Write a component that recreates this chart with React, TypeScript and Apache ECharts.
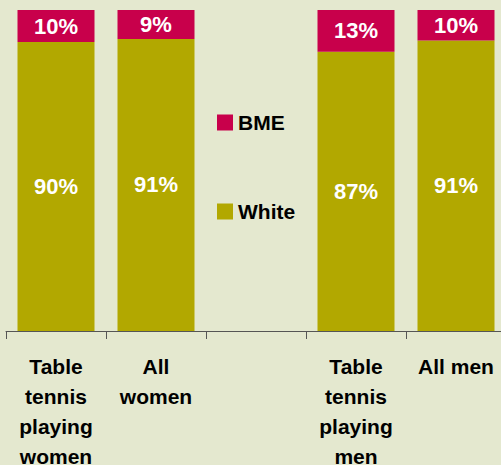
import React, { useEffect, useRef } from "react";
import * as echarts from "echarts";

const categories = [
  "Table\ntennis\nplaying\nwomen",
  "All\nwomen",
  "",
  "Table\ntennis\nplaying\nmen",
  "All men",
];
const whiteValues: (number | null)[] = [90, 91, null, 87, 90.5];
const bmeValues: (number | null)[] = [10, 9, null, 13, 9.5];

const BG = "#e4e8cf";
const OLIVE = "#b2a800";
const CRIMSON = "#c8004b";
const FONT = "'Liberation Sans', Arial, sans-serif";

export default function App() {
  const ref = useRef<HTMLDivElement>(null);
  useEffect(() => {
    if (!ref.current) return;
    const chart = echarts.init(ref.current, undefined, { renderer: "svg" });
    const labelStyle = {
      show: true,
      position: "inside" as const,
      color: "#ffffff",
      fontSize: 22,
      fontWeight: "bold" as const,
      fontFamily: FONT,
      formatter: (p: any) => (p.value == null ? "" : Math.round(p.value) + "%"),
    };
    const legendBase = {
      orient: "vertical" as const,
      left: 217,
      padding: 0,
      itemWidth: 16,
      itemHeight: 16,
      itemGap: 5,
      icon: "rect",
      textStyle: {
        fontSize: 21,
        fontWeight: "bold" as const,
        fontFamily: FONT,
        color: "#000000",
        lineHeight: 16,
      },
    };
    chart.setOption({
      animation: false,
      backgroundColor: BG,
      legend: [
        { ...legendBase, top: 112, data: ["BME"] },
        { ...legendBase, top: 201, data: ["White"] },
      ],
      grid: {
        left: 6,
        width: 500,
        top: 10,
        bottom: 134,
        containLabel: false,
        outerBoundsMode: "none",
      },
      xAxis: {
        type: "category",
        data: categories,
        axisLine: { show: true, lineStyle: { color: "#555555", width: 1 } },
        axisTick: { show: true, length: 8, lineStyle: { color: "#555555" } },
        axisLabel: {
          interval: 0,
          margin: 20,
          color: "#000000",
          fontSize: 21,
          fontWeight: "bold",
          fontFamily: FONT,
          lineHeight: 30,
          verticalAlign: "top",
        },
      },
      yAxis: {
        type: "value",
        min: 0,
        max: 100,
        show: false,
        splitLine: { show: false },
      },
      series: [
        {
          name: "White",
          type: "bar",
          stack: "total",
          barWidth: "77%",
          data: whiteValues,
          itemStyle: { color: OLIVE },
          label: labelStyle,
        },
        {
          name: "BME",
          type: "bar",
          stack: "total",
          barWidth: "77%",
          data: bmeValues,
          itemStyle: { color: CRIMSON },
          label: labelStyle,
        },
      ],
    });
    return () => chart.dispose();
  }, []);
  return (
    <div
      ref={ref}
      style={{ position: "fixed", left: 0, top: 0, width: 501, height: 465 }}
    />
  );
}
